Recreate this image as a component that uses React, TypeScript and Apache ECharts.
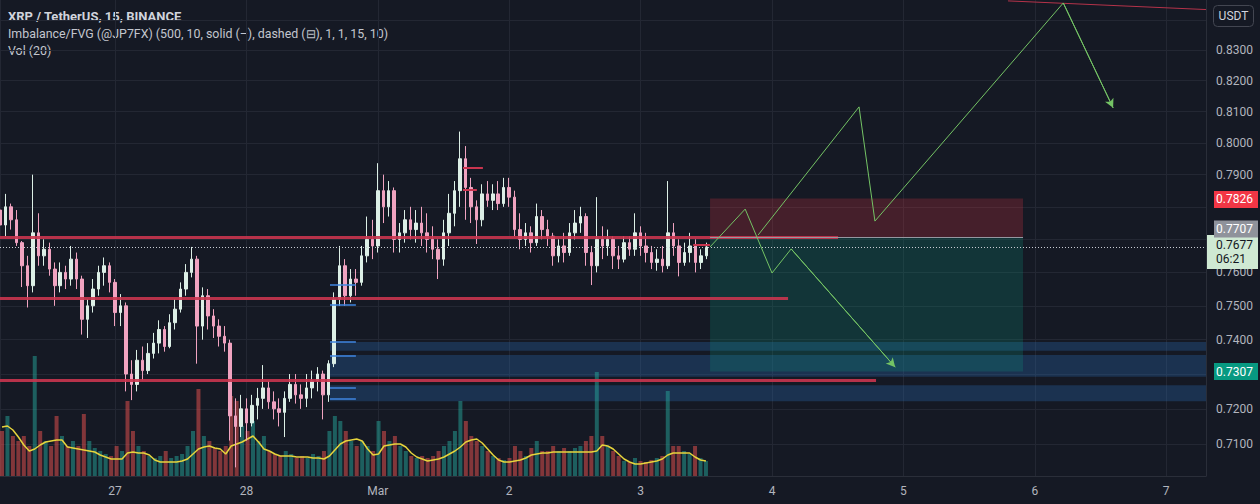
import React, { useEffect, useRef } from 'react';
import * as echarts from 'echarts';

// ---------- helpers ----------
const HOUR = 3600 * 1000;
function ts(s: string): number {
  const [d, t] = s.split(' ');
  const [y, m, dd] = d.split('-').map(Number);
  const [hh, mm] = (t || '00:00').split(':').map(Number);
  return new Date(y, m - 1, dd, hh, mm, 0).getTime();
}

// ---------- data ----------
const TITLE = 'XRP / TetherUS, 15, BINANCE';
const INDICATOR = 'Imbalance/FVG (@JP7FX) (500, 10, solid (\u2013), dashed (\u229F), 1, 1, 15, 10)';
const VOL_TITLE = 'Vol (20)';
const CURRENCY = 'USDT';
const MONTH_NAMES = ['Jan', 'Feb', 'Mar', 'Apr', 'May', 'Jun', 'Jul', 'Aug', 'Sep', 'Oct', 'Nov', 'Dec'];

const axisStart = '2022-02-26 03:00';
const axisEnd = '2022-03-07 07:16';
const firstCandle = '2022-02-26 03:00'; // hourly candles from here

// [open, close, low, high]
const ohlc: number[][] = [
  [0.7790, 0.7744, 0.7706, 0.7905], [0.7744, 0.7800, 0.7710, 0.7840], [0.7800, 0.7760, 0.7730, 0.7810], [0.7760, 0.7690, 0.7680, 0.7790],
  [0.7690, 0.7620, 0.7556, 0.7695], [0.7620, 0.7560, 0.7495, 0.7650], [0.7560, 0.7720, 0.7540, 0.7900], [0.7720, 0.7650, 0.7620, 0.7780],
  [0.7650, 0.7670, 0.7620, 0.7700], [0.7670, 0.7610, 0.7590, 0.7690], [0.7610, 0.7560, 0.7500, 0.7630], [0.7560, 0.7600, 0.7540, 0.7630],
  [0.7600, 0.7580, 0.7550, 0.7620], [0.7580, 0.7640, 0.7560, 0.7680], [0.7640, 0.7580, 0.7550, 0.7660], [0.7580, 0.7460, 0.7415, 0.7590],
  [0.7460, 0.7500, 0.7405, 0.7520], [0.7500, 0.7550, 0.7480, 0.7580], [0.7550, 0.7600, 0.7530, 0.7620], [0.7600, 0.7620, 0.7560, 0.7645],
  [0.7620, 0.7570, 0.7540, 0.7630], [0.7570, 0.7480, 0.7440, 0.7580], [0.7480, 0.7500, 0.7440, 0.7535], [0.7500, 0.7300, 0.7250, 0.7510],
  [0.7300, 0.7270, 0.7225, 0.7340], [0.7270, 0.7340, 0.7250, 0.7370], [0.7340, 0.7310, 0.7282, 0.7380], [0.7310, 0.7360, 0.7300, 0.7390],
  [0.7360, 0.7390, 0.7345, 0.7420], [0.7390, 0.7430, 0.7360, 0.7457], [0.7430, 0.7380, 0.7365, 0.7440], [0.7380, 0.7450, 0.7375, 0.7475],
  [0.7450, 0.7490, 0.7430, 0.7520], [0.7490, 0.7550, 0.7480, 0.7570], [0.7550, 0.7600, 0.7530, 0.7625], [0.7600, 0.7640, 0.7585, 0.7677],
  [0.7640, 0.7440, 0.7330, 0.7650], [0.7440, 0.7530, 0.7400, 0.7555], [0.7530, 0.7470, 0.7430, 0.7550], [0.7470, 0.7440, 0.7405, 0.7490],
  [0.7440, 0.7410, 0.7380, 0.7460], [0.7410, 0.7390, 0.7365, 0.7440], [0.7390, 0.7180, 0.7110, 0.7400], [0.7180, 0.7150, 0.7035, 0.7230],
  [0.7150, 0.7200, 0.7120, 0.7240], [0.7200, 0.7160, 0.7110, 0.7230], [0.7160, 0.7210, 0.7150, 0.7240], [0.7210, 0.7230, 0.7170, 0.7260],
  [0.7230, 0.7260, 0.7200, 0.7326], [0.7260, 0.7220, 0.7200, 0.7280], [0.7220, 0.7200, 0.7170, 0.7250], [0.7200, 0.7190, 0.7150, 0.7230],
  [0.7190, 0.7230, 0.7120, 0.7250], [0.7230, 0.7270, 0.7220, 0.7300], [0.7270, 0.7240, 0.7215, 0.7300], [0.7240, 0.7230, 0.7200, 0.7270],
  [0.7230, 0.7260, 0.7205, 0.7300], [0.7260, 0.7280, 0.7230, 0.7310], [0.7280, 0.7300, 0.7250, 0.7320], [0.7300, 0.7240, 0.7170, 0.7310],
  [0.7240, 0.7330, 0.7220, 0.7340], [0.7330, 0.7520, 0.7320, 0.7540], [0.7520, 0.7620, 0.7500, 0.7680], [0.7620, 0.7530, 0.7500, 0.7640],
  [0.7530, 0.7580, 0.7510, 0.7610], [0.7580, 0.7570, 0.7530, 0.7610], [0.7570, 0.7650, 0.7560, 0.7680], [0.7650, 0.7700, 0.7630, 0.7770],
  [0.7700, 0.7680, 0.7640, 0.7760], [0.7680, 0.7850, 0.7660, 0.7936], [0.7850, 0.7800, 0.7750, 0.7900], [0.7800, 0.7850, 0.7770, 0.7880],
  [0.7850, 0.7700, 0.7660, 0.7860], [0.7700, 0.7720, 0.7660, 0.7750], [0.7720, 0.7760, 0.7690, 0.7790], [0.7760, 0.7730, 0.7700, 0.7800],
  [0.7730, 0.7750, 0.7690, 0.7790], [0.7750, 0.7720, 0.7680, 0.7800], [0.7720, 0.7700, 0.7660, 0.7780], [0.7700, 0.7670, 0.7640, 0.7740],
  [0.7670, 0.7640, 0.7580, 0.7700], [0.7640, 0.7720, 0.7620, 0.7760], [0.7720, 0.7780, 0.7680, 0.7840], [0.7780, 0.7850, 0.7740, 0.7880],
  [0.7850, 0.7950, 0.7800, 0.8036], [0.7950, 0.7860, 0.7760, 0.7990], [0.7860, 0.7800, 0.7750, 0.7890], [0.7800, 0.7760, 0.7686, 0.7820],
  [0.7760, 0.7840, 0.7740, 0.7870], [0.7840, 0.7820, 0.7800, 0.7880], [0.7820, 0.7840, 0.7790, 0.7870], [0.7840, 0.7810, 0.7790, 0.7880],
  [0.7810, 0.7860, 0.7800, 0.7890], [0.7860, 0.7830, 0.7800, 0.7890], [0.7830, 0.7730, 0.7710, 0.7850], [0.7730, 0.7700, 0.7670, 0.7780],
  [0.7700, 0.7720, 0.7680, 0.7750], [0.7720, 0.7690, 0.7660, 0.7740], [0.7690, 0.7770, 0.7680, 0.7810], [0.7770, 0.7730, 0.7700, 0.7790],
  [0.7730, 0.7710, 0.7680, 0.7760], [0.7710, 0.7650, 0.7620, 0.7720], [0.7650, 0.7680, 0.7630, 0.7700], [0.7680, 0.7660, 0.7630, 0.7720],
  [0.7660, 0.7720, 0.7650, 0.7750], [0.7720, 0.7750, 0.7700, 0.7790], [0.7750, 0.7770, 0.7720, 0.7800], [0.7770, 0.7660, 0.7620, 0.7780],
  [0.7660, 0.7620, 0.7562, 0.7680], [0.7620, 0.7700, 0.7600, 0.7830], [0.7700, 0.7680, 0.7640, 0.7740], [0.7680, 0.7700, 0.7650, 0.7730],
  [0.7700, 0.7650, 0.7610, 0.7710], [0.7650, 0.7640, 0.7610, 0.7680], [0.7640, 0.7690, 0.7630, 0.7710], [0.7690, 0.7670, 0.7650, 0.7710],
  [0.7670, 0.7720, 0.7650, 0.7780], [0.7720, 0.7680, 0.7650, 0.7740], [0.7680, 0.7660, 0.7630, 0.7720], [0.7660, 0.7630, 0.7610, 0.7680],
  [0.7630, 0.7640, 0.7605, 0.7670], [0.7640, 0.7620, 0.7600, 0.7680], [0.7620, 0.7720, 0.7610, 0.7880], [0.7720, 0.7680, 0.7650, 0.7750],
  [0.7680, 0.7630, 0.7588, 0.7700], [0.7630, 0.7660, 0.7620, 0.7690], [0.7660, 0.7680, 0.7630, 0.7720], [0.7680, 0.7630, 0.7600, 0.7700],
  [0.7630, 0.7650, 0.7610, 0.7670], [0.7650, 0.7677, 0.7640, 0.7690],
];

const volume: number[] = [
  45, 60, 40, 35, 40, 30, 120, 45, 35, 30,
  60, 40, 30, 35, 30, 62, 35, 28, 25, 22,
  20, 30, 25, 75, 45, 30, 25, 20, 18, 20,
  25, 18, 20, 22, 30, 45, 87, 40, 35, 28,
  25, 30, 80, 75, 50, 45, 55, 35, 40, 25,
  22, 20, 25, 22, 18, 20, 18, 22, 20, 25,
  45, 60, 55, 45, 35, 30, 35, 30, 25, 55,
  45, 35, 40, 30, 25, 20, 18, 20, 18, 20,
  25, 30, 35, 45, 75, 55, 40, 35, 30, 25,
  20, 18, 16, 18, 30, 25, 20, 28, 35, 25,
  25, 30, 25, 28, 25, 28, 30, 35, 40, 104,
  40, 30, 25, 20, 15, 14, 18, 15, 14, 16,
  18, 20, 85, 30, 30, 25, 22, 30, 18, 15,
];

const volumeMA20: number[] = [
  49, 50, 46, 39, 31, 25, 27, 31, 34, 35,
  36, 36, 29, 28, 27, 26, 25, 24, 21, 19,
  17, 17, 17, 23, 24, 23, 23, 21, 16, 14,
  14, 14, 14, 15, 17, 22, 27, 29, 30, 28,
  27, 22, 30, 32, 34, 37, 40, 34, 27, 25,
  22, 20, 20, 20, 19, 19, 19, 18, 18, 17,
  20, 26, 32, 35, 36, 37, 35, 27, 21, 22,
  30, 31, 32, 32, 29, 23, 19, 17, 15, 16,
  17, 19, 22, 25, 29, 34, 36, 37, 33, 27,
  21, 16, 14, 14, 15, 16, 18, 21, 22, 23,
  23, 24, 24, 24, 24, 24, 24, 24, 24, 25,
  31, 30, 27, 22, 17, 14, 12, 12, 13, 14,
  15, 17, 21, 23, 23, 23, 23, 19, 16, 15,
];

const priceTicks = [0.84, 0.83, 0.82, 0.81, 0.80, 0.79, 0.78, 0.77, 0.76, 0.75, 0.74, 0.73, 0.72, 0.71];
const priceTickLabels = ['', '0.8300', '0.8200', '0.8100', '0.8000', '0.7900', '', '', '0.7600', '0.7500', '0.7400', '', '0.7200', '0.7100'];

// horizontal support/resistance lines: price, end time
const levelPrices = [0.7705, 0.7523, 0.7281];
const levelEnds = ['2022-03-04 12:04', '2022-03-04 02:56', '2022-03-04 19:00'];

// short red marks
const shortRedPrices = [0.7921, 0.7852, 0.7683];
const shortRedStarts = ['2022-03-01 15:34', '2022-03-01 15:34', '2022-03-03 09:36'];
const shortRedEnds = ['2022-03-01 19:12', '2022-03-01 18:06', '2022-03-03 12:40'];

// FVG boundary marks
const fvgMarkPrices = [0.7562, 0.7502, 0.7393, 0.7352, 0.7260, 0.7228];
const fvgMarkStart = '2022-02-28 15:16';
const fvgMarkEnd = '2022-02-28 20:00';

// FVG zones [top, bottom]
const fvgZoneTops = [0.7393, 0.7355, 0.7268];
const fvgZoneBottoms = [0.7368, 0.7292, 0.7222];
const fvgZoneStart = '2022-02-28 15:16';

// long position tool
const posStart = '2022-03-03 12:41';
const posEnd = '2022-03-05 21:51';
const stopPrice = 0.7826;
const entryPrice = 0.7707;
const targetPrice = 0.7307;
const lastPrice = 0.7677;
const countdown = '06:21';

// drawn projection paths
const pathA: [string, number][] = [
  ['2022-03-03 12:41', 0.7677], ['2022-03-03 19:06', 0.7793], ['2022-03-04 00:00', 0.7598],
  ['2022-03-04 03:30', 0.7671], ['2022-03-04 22:30', 0.7320],
];
const pathB: [string, number][] = [
  ['2022-03-03 21:27', 0.7713], ['2022-03-04 15:54', 0.8115], ['2022-03-04 18:48', 0.7756],
  ['2022-03-06 05:12', 0.8456], ['2022-03-06 14:18', 0.8112],
];
const trendLine: [string, number][] = [['2022-03-05 19:06', 0.8463], ['2022-03-07 07:16', 0.8434]];

// ---------- styles ----------
const BG = '#151924';
const GRID = '#232733';
const TEXT = '#b2b5be';
const FONT = 'Roboto, "Noto Sans", sans-serif';
const UP = '#dcefe6';
const DOWN = '#f0a3c0';
const VOL_UP = 'rgba(38,166,154,0.5)';
const VOL_DOWN = 'rgba(239,83,80,0.5)';
const RED_LINE = '#c9354f';
const ARROW = '#74c365';
const NONE_LINE = { color: 'rgba(0,0,0,0)', width: 1, type: 'solid' };

function buildOption(): any {
  const xMin = ts(axisStart);
  const xMax = ts(axisEnd);
  const t0 = ts(firstCandle);
  const times = ohlc.map((_, i) => t0 + i * HOUR);
  const candleData = ohlc.map((d, i) => [times[i], d[0], d[1], d[2], d[3]]);
  const volData = volume.map((v, i) => ({
    value: [times[i], v],
    itemStyle: { color: ohlc[i][1] >= ohlc[i][0] ? VOL_UP : VOL_DOWN },
  }));
  const maData = volumeMA20.map((v, i) => [times[i], v]);

  const gridLines = priceTicks.map((p, i) => ({
    yAxis: p,
    lineStyle: { color: GRID, width: 1, type: 'solid' },
    label: { show: priceTickLabels[i] !== '', formatter: priceTickLabels[i] },
  }));

  const fvgAreas = fvgZoneTops.map((top, i) => [
    { coord: [ts(fvgZoneStart), top], itemStyle: { color: 'rgba(44,108,183,0.3)' } },
    { coord: [xMax, fvgZoneBottoms[i]] },
  ]);
  const posAreas = [
    [{ coord: [ts(posStart), stopPrice], itemStyle: { color: 'rgba(242,54,69,0.22)' } }, { coord: [ts(posEnd), entryPrice] }],
    [{ coord: [ts(posStart), entryPrice], itemStyle: { color: 'rgba(8,153,129,0.22)' } }, { coord: [ts(posEnd), targetPrice] }],
  ];

  const seg = (x1: number, y1: number, x2: number, y2: number, style: any) => [
    { coord: [x1, y1], lineStyle: style },
    { coord: [x2, y2], lineStyle: style },
  ];
  const redLines = levelPrices.map((p, i) =>
    seg(xMin, p, ts(levelEnds[i]), p, { color: RED_LINE, width: 3, opacity: 0.9, type: 'solid' }));
  const shortRed = shortRedPrices.map((p, i) =>
    seg(ts(shortRedStarts[i]), p, ts(shortRedEnds[i]), p, { color: RED_LINE, width: 2, type: 'solid' }));
  const fvgMarks = fvgMarkPrices.map((p) =>
    seg(ts(fvgMarkStart), p, ts(fvgMarkEnd), p, { color: '#3f86e0', width: 1.5, type: 'solid' }));
  const entryLine = seg(ts(posStart), entryPrice, ts(posEnd), entryPrice, { color: '#9598a1', width: 1, type: 'solid' });
  const trend = seg(ts(trendLine[0][0]), trendLine[0][1], ts(trendLine[1][0]), trendLine[1][1], { color: '#b5334a', width: 1, type: 'solid' });
  const currentLine = {
    yAxis: lastPrice,
    lineStyle: { color: '#c8cbd3', width: 1, type: [1, 2] },
    label: {
      show: true, formatter: lastPrice.toFixed(4) + '\n' + countdown, backgroundColor: '#cfe9d3', color: '#131722',
      padding: [3, 4, 3, 9], lineHeight: 14, offset: [0, 5], distance: 1, width: 38,
    },
  };
  const badge = (p: number, bg: string, fg: string, off: number) => ({
    yAxis: p,
    lineStyle: NONE_LINE,
    label: {
      show: true, formatter: p.toFixed(4), backgroundColor: bg, color: fg,
      padding: [2, 4, 2, 2], lineHeight: 13, offset: [0, off], distance: 8, width: 38,
    },
  });

  const pathSeries = (pts: [string, number][], name: string) => {
    const data = pts.map((p) => [ts(p[0]), p[1]]);
    const n = data.length;
    return {
      name, type: 'line', xAxisIndex: 0, yAxisIndex: 0, data, showSymbol: false, z: 8, silent: true,
      lineStyle: { color: ARROW, width: 1 },
      markLine: {
        silent: true, precision: 6, symbol: ['none', 'arrow'], symbolSize: [7, 9], z: 8,
        lineStyle: { color: ARROW, width: 1, type: 'solid' }, label: { show: false },
        data: [[{ coord: data[n - 2] }, { coord: data[n - 1] }]],
      },
    };
  };

  return {
    animation: false,
    backgroundColor: BG,
    textStyle: { fontFamily: FONT },
    grid: [
      { left: 0, right: 54, top: 0, bottom: 28 },
      { left: 0, right: 54, top: 346, bottom: 28 },
    ],
    xAxis: [
      {
        type: 'time', gridIndex: 0, min: xMin, max: xMax, minInterval: 24 * HOUR, maxInterval: 24 * HOUR,
        axisLine: { show: true, lineStyle: { color: '#2a2e39' } },
        axisTick: { show: false },
        splitLine: { show: true, lineStyle: { color: GRID, width: 1 } },
        axisLabel: {
          color: TEXT, fontSize: 12, margin: 9, fontFamily: FONT, showMinLabel: false, showMaxLabel: false,
          formatter: (v: number) => {
            const d = new Date(v);
            return d.getDate() === 1 ? MONTH_NAMES[d.getMonth()] : String(d.getDate());
          },
        },
      },
      { type: 'time', gridIndex: 1, min: xMin, max: xMax, show: false },
    ],
    yAxis: [
      {
        type: 'log', logBase: 10, gridIndex: 0, min: 0.7011, max: 0.8466, position: 'right',
        axisLine: { show: true, lineStyle: { color: '#2a2e39' } },
        axisTick: { show: false }, axisLabel: { show: false }, splitLine: { show: false },
      },
      { type: 'value', gridIndex: 1, min: 0, max: 130, show: false, splitLine: { show: false } },
    ],
    graphic: [
      { type: 'text', x: 8, y: 16, style: { text: TITLE, fill: '#d1d4dc', fontSize: 13, fontWeight: 'bold', fontFamily: FONT, verticalAlign: 'middle' } },
      { type: 'text', x: 8, y: 33, style: { text: INDICATOR, fill: '#c3c6ce', fontSize: 12.4, fontFamily: FONT, verticalAlign: 'middle' } },
      { type: 'text', x: 8, y: 50, style: { text: VOL_TITLE, fill: '#c3c6ce', fontSize: 12.4, fontFamily: FONT, verticalAlign: 'middle' } },
      { type: 'rect', shape: { x: 1213.5, y: 5.5, width: 40, height: 21, r: 4 }, style: { fill: BG, stroke: '#434651', lineWidth: 1 } },
      { type: 'text', x: 1233.5, y: 16, style: { text: CURRENCY, fill: '#d1d4dc', fontSize: 12, fontFamily: FONT, align: 'center', verticalAlign: 'middle' } },
    ],
    series: [
      {
        name: 'grid', type: 'line', xAxisIndex: 0, yAxisIndex: 0, data: [], z: 0, silent: true,
        markLine: {
          silent: true, precision: 6, symbol: ['none', 'none'], z: 0,
          lineStyle: { type: 'solid' },
          label: { position: 'end', distance: 10, color: TEXT, fontSize: 12, fontFamily: FONT },
          data: gridLines,
        },
        markArea: { silent: true, z: 1, data: [...fvgAreas, ...posAreas] },
      },
      {
        name: 'Volume', type: 'bar', xAxisIndex: 1, yAxisIndex: 1, data: volData, barWidth: 4, z: 1, silent: true,
      },
      {
        name: 'Vol MA', type: 'line', xAxisIndex: 1, yAxisIndex: 1, data: maData, showSymbol: false, z: 2, silent: true,
        lineStyle: { color: '#e6d43c', width: 1.5 },
      },
      {
        name: 'XRPUSDT', type: 'candlestick', xAxisIndex: 0, yAxisIndex: 0, data: candleData, barWidth: 3, z: 3, silent: true,
        itemStyle: { color: UP, color0: DOWN, borderColor: UP, borderColor0: DOWN, borderWidth: 1 },
      },
      {
        name: 'levels', type: 'line', xAxisIndex: 0, yAxisIndex: 0, data: [], z: 5, silent: true,
        markLine: {
          silent: true, precision: 6, symbol: ['none', 'none'], z: 5,
          lineStyle: { type: 'solid' },
          label: { show: false, position: 'end', fontSize: 12, fontFamily: FONT },
          data: [...redLines, ...shortRed, ...fvgMarks, entryLine, trend, currentLine],
        },
      },
      {
        name: 'badges', type: 'line', xAxisIndex: 0, yAxisIndex: 0, data: [], z: 9, silent: true,
        markLine: {
          silent: true, precision: 6, symbol: ['none', 'none'], z: 9,
          lineStyle: NONE_LINE,
          label: { show: true, position: 'end', fontSize: 12, fontFamily: FONT },
          data: [badge(stopPrice, '#f23645', '#ffffff', 1), badge(entryPrice, '#8f929b', '#ffffff', -8), badge(targetPrice, '#089981', '#ffffff', 0)],
        },
      },
      pathSeries(pathA, 'pathA'),
      pathSeries(pathB, 'pathB'),
    ],
  };
}

export default function App() {
  const ref = useRef<HTMLDivElement>(null);
  useEffect(() => {
    if (!ref.current) return;
    const chart = echarts.init(ref.current, null, { renderer: 'svg' });
    chart.setOption(buildOption());
    return () => chart.dispose();
  }, []);
  return <div ref={ref} style={{ position: 'fixed', left: 0, top: 0, width: 1260, height: 504 }} />;
}
